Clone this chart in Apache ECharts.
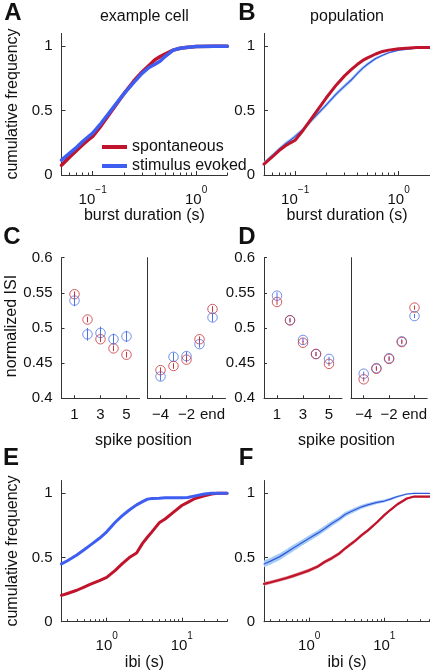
<!DOCTYPE html>
<html><head><meta charset="utf-8">
<script src="https://cdn.jsdelivr.net/npm/echarts@6/dist/echarts.min.js"></script>
<style>html,body{margin:0;padding:0;background:#fff}#c{width:430px;height:672px}</style>
</head><body><div id="c"></div>
<script>
// ---- data ----
const burstDur = [0.05,0.06,0.07,0.08,0.09,0.1,0.12,0.15,0.2,0.25,0.3,0.35,0.4,0.45,0.5,0.6,0.7,0.8,1,1.5,2];
const cellBurstSpont  = [0.075,0.14,0.19,0.235,0.27,0.30,0.38,0.49,0.63,0.73,0.80,0.85,0.895,0.92,0.94,0.97,0.985,0.99,0.998,1,1];
const cellBurstEvoked = [0.115,0.17,0.215,0.26,0.295,0.325,0.40,0.50,0.63,0.72,0.79,0.835,0.86,0.885,0.92,0.97,0.985,0.99,0.998,1,1];
const popBurstSpont   = [0.085,0.14,0.19,0.225,0.25,0.27,0.35,0.46,0.60,0.70,0.77,0.82,0.86,0.89,0.91,0.94,0.96,0.97,0.98,0.99,0.99];
const popBurstEvoked  = [0.09,0.15,0.20,0.24,0.27,0.30,0.355,0.44,0.545,0.63,0.69,0.74,0.79,0.83,0.86,0.905,0.93,0.95,0.97,0.985,0.99];
const popBurstSpontErr  = [0.008,0.008,0.008,0.008,0.008,0.008,0.008,0.008,0.008,0.008,0.008,0.008,0.007,0.007,0.006,0.005,0.004,0.004,0.003,0.002,0.002];
const popBurstEvokedErr = [0.016,0.016,0.016,0.016,0.016,0.016,0.016,0.016,0.016,0.016,0.016,0.016,0.016,0.015,0.014,0.012,0.01,0.008,0.006,0.004,0.003];

const posStart = [1,2,3,4,5];
const posEnd = [-4,-3,-2,-1,0];
const cellIsiSpontStart  = [0.548,0.512,0.484,0.471,0.462];
const cellIsiEvokedStart = [0.539,0.491,0.493,0.484,0.488];
const cellIsiSpontEnd    = [0.440,0.446,0.455,0.484,0.527];
const cellIsiEvokedEnd   = [0.431,0.459,0.460,0.477,0.515];
const cellErrSpontStart  = [0.004,0.004,0.004,0.004,0.004];
const cellErrEvokedStart = [0.008,0.009,0.009,0.008,0.008];
const cellErrSpontEnd    = [0.004,0.004,0.004,0.004,0.004];
const cellErrEvokedEnd   = [0.006,0.006,0.006,0.005,0.006];
const popIsiSpontStart   = [0.537,0.511,0.479,0.463,0.449];
const popIsiEvokedStart  = [0.546,0.511,0.483,0.463,0.456];
const popIsiSpontEnd     = [0.427,0.442,0.456,0.480,0.529];
const popIsiEvokedEnd    = [0.435,0.443,0.457,0.481,0.517];
const popErrSpontStart   = [0.004,0.003,0.003,0.003,0.003];
const popErrEvokedStart  = [0.005,0.003,0.003,0.003,0.003];
const popErrSpontEnd     = [0.003,0.003,0.003,0.003,0.003];
const popErrEvokedEnd    = [0.003,0.003,0.003,0.003,0.003];

const ibi = [0.25,0.3,0.4,0.5,0.6,0.8,1,1.3,1.6,2,2.5,3,3.5,4,5,6,8,10,12,15,20,25,30,40];
const cellIbiSpont  = [0.205,0.22,0.245,0.27,0.29,0.32,0.345,0.40,0.45,0.50,0.535,0.61,0.66,0.70,0.77,0.80,0.86,0.905,0.93,0.96,0.98,0.995,1,1];
const cellIbiEvoked = [0.45,0.475,0.52,0.56,0.595,0.65,0.70,0.775,0.825,0.87,0.91,0.935,0.955,0.96,0.962,0.965,0.965,0.966,0.968,0.98,0.995,1,1,1];
const popIbiSpont   = [0.295,0.305,0.325,0.34,0.355,0.38,0.40,0.43,0.465,0.495,0.53,0.57,0.60,0.625,0.675,0.71,0.775,0.83,0.87,0.915,0.96,0.975,0.975,0.975];
const popIbiEvoked  = [0.45,0.47,0.505,0.54,0.57,0.615,0.65,0.69,0.725,0.765,0.80,0.835,0.855,0.87,0.895,0.91,0.93,0.94,0.955,0.975,0.995,1,1,1];
const popIbiSpontErr  = [0.014,0.014,0.014,0.014,0.014,0.014,0.014,0.014,0.014,0.014,0.014,0.014,0.014,0.014,0.013,0.013,0.012,0.011,0.01,0.009,0.008,0.007,0.007,0.007];
const popIbiEvokedErr = [0.026,0.026,0.026,0.025,0.025,0.024,0.024,0.023,0.022,0.021,0.02,0.019,0.018,0.017,0.016,0.015,0.013,0.012,0.011,0.009,0.006,0.004,0.003,0.003];

const yTicksCum = [0,0.5,1];
const burstMajor = [0.1,1];
const burstMinor = [0.05,0.06,0.07,0.08,0.09,0.2,0.3,0.4,0.5,0.6,0.7,0.8,0.9,2];
const ibiMajor = [1,10];
const ibiMinor = [0.3,0.4,0.5,0.6,0.7,0.8,0.9,2,3,4,5,6,7,8,9,20,30,40];
const posStartTicks = [1,3,5];
const posEndTicks = [-4,-2,0];

// ---- style ----
const FONT = '"Liberation Sans", Arial, Helvetica, sans-serif';
const RED = '#c0142c', BLUE = '#3d5ef0';
const BLUE_THIN = '#3355dd', BLUE_BAND = '#a3cbf3', RED_BAND = '#e3949a';
const MRED = '#c8353b', MBLUE = '#4d73e8';
const AX = '#333';

const zip = (xs, ys) => xs.map((x, i) => [x, ys[i]]);
const zip3 = (xs, ys, es) => xs.map((x, i) => [x, ys[i], es[i]]);
const expMap = {'-1':'\u22121','0':'0','1':'1'};
const logFmt = v => { const k = String(Math.round(Math.log10(v))); return '{b|10}{s|' + expMap[k] + '}'; };

const grids = [
  {left:61.5, top:33.4, width:165.8, height:141.6},   // A
  {left:264,  top:33.4, width:165.8, height:141.6},   // B
  {left:61.5, top:257.7, width:78, height:140.6},     // C left
  {left:147.5,top:257.7, width:78, height:140.6},     // C right
  {left:264,  top:257.7, width:78, height:140.6},     // D left
  {left:351,  top:257.7, width:78, height:140.6},     // D right
  {left:61.5, top:480.5, width:165.5, height:141.2},  // E
  {left:264,  top:480.5, width:165.5, height:141.2}   // F
];

const lblStyle = {color:'#111', fontSize:15, fontFamily:FONT};
function logX(grid, min, max, major, minor, isMinor) {
  if (isMinor) return {type:'log', logBase:10, gridIndex:grid, position:'bottom', min, max,
    axisLine:{show:false}, splitLine:{show:false},
    axisTick:{show:true, inside:true, length:2.5, customValues:minor, lineStyle:{color:AX}},
    axisLabel:{show:false}};
  return {type:'log', logBase:10, gridIndex:grid, position:'bottom', min, max,
    axisLine:{show:true, lineStyle:{color:AX, width:1}}, splitLine:{show:false},
    axisTick:{show:true, inside:true, length:4, customValues:major, lineStyle:{color:AX}},
    axisLabel:Object.assign({show:true, margin:10, customValues:major, formatter:logFmt,
      rich:{b:{fontSize:15, fontFamily:FONT, color:'#111', verticalAlign:'bottom', lineHeight:22},
            s:{fontSize:10, fontFamily:FONT, color:'#111', verticalAlign:'top', lineHeight:22}}}, lblStyle)};
}
function valX(grid, min, max, ticks, fmt) {
  return {type:'value', gridIndex:grid, position:'bottom', min, max,
    axisLine:{show:true, onZero:false, lineStyle:{color:AX, width:1}}, splitLine:{show:false},
    axisTick:{show:true, inside:true, length:3, customValues:ticks, lineStyle:{color:AX}},
    axisLabel:Object.assign({show:true, margin:9, customValues:ticks, formatter:fmt}, lblStyle)};
}
function cumY(grid) {
  return {type:'value', gridIndex:grid, min:0, max:1.1,
    axisLine:{show:true, onZero:false, lineStyle:{color:AX, width:1}}, splitLine:{show:false},
    axisTick:{show:true, inside:true, length:4, customValues:yTicksCum, lineStyle:{color:AX}},
    axisLabel:Object.assign({show:true, margin:9, customValues:yTicksCum, formatter:v=>String(v)}, lblStyle)};
}
function isiY(grid, labels) {
  return {type:'value', gridIndex:grid, min:0.4, max:0.6, interval:0.05,
    axisLine:{show:true, onZero:false, lineStyle:{color:AX, width:1}}, splitLine:{show:false},
    axisTick:{show:labels, inside:true, length:3, lineStyle:{color:AX}},
    axisLabel:Object.assign({show:labels, margin:9, formatter:v=>String(+v.toFixed(2))}, lblStyle)};
}
const endFmt = v => v === 0 ? 'end' : (v < 0 ? '\u2212' + (-v) : String(v));

const xAxis = [
  logX(0, 0.05, 2, burstMajor),
  logX(1, 0.05, 2, burstMajor),
  valX(2, 0, 6, posStartTicks, v=>String(v)),
  valX(3, -5, 1, posEndTicks, endFmt),
  valX(4, 0, 6, posStartTicks, v=>String(v)),
  valX(5, -5, 1, posEndTicks, endFmt),
  logX(6, 0.25, 40, ibiMajor),
  logX(7, 0.25, 40, ibiMajor),
  logX(0, 0.05, 2, null, burstMinor, true),
  logX(1, 0.05, 2, null, burstMinor, true),
  logX(6, 0.25, 40, null, ibiMinor, true),
  logX(7, 0.25, 40, null, ibiMinor, true)
];
const yAxis = [cumY(0), cumY(1), isiY(2,true), isiY(3,false), isiY(4,true), isiY(5,false), cumY(6), cumY(7)];

function line(name, gi, xs, ys, color, width) {
  return {name, type:'line', xAxisIndex:gi, yAxisIndex:gi, data:zip(xs, ys), showSymbol:false, symbol:'none',
    lineStyle:{color, width, cap:'round', join:'round'}, itemStyle:{color}, z:3, silent:true};
}
function band(gi, xs, ys, es, color) {
  const data = zip3(xs, ys, es);
  return {type:'custom', xAxisIndex:gi, yAxisIndex:gi, data, encode:{x:0, y:1}, z:1, silent:true,
    renderItem:(params, api) => {
      if (params.dataIndex !== 0) return null;
      const up = data.map(d => api.coord([d[0], d[1] + d[2]]));
      const dn = data.map(d => api.coord([d[0], d[1] - d[2]])).reverse();
      return {type:'polygon', shape:{points: up.concat(dn)}, style:{fill:color}};
    }};
}
function circles(gi, xs, ys, color) {
  return {type:'scatter', xAxisIndex:gi, yAxisIndex:gi, data:zip(xs, ys), symbol:'circle', symbolSize:9.5,
    itemStyle:{color:'rgba(0,0,0,0)', borderColor:color, borderWidth:1}, z:4, silent:true};
}
function errbars(gi, xs, ys, es, color) {
  return {type:'custom', xAxisIndex:gi, yAxisIndex:gi, data:zip3(xs, ys, es), encode:{x:0, y:1}, z:5, silent:true,
    renderItem:(params, api) => {
      const x = api.value(0), y = api.value(1), e = api.value(2);
      const p1 = api.coord([x, y - e]), p2 = api.coord([x, y + e]);
      return {type:'line', shape:{x1:p1[0], y1:p1[1], x2:p2[0], y2:p2[1]}, style:{stroke:color, lineWidth:1}};
    }};
}

const series = [
  line('spontaneous', 0, burstDur, cellBurstSpont, RED, 3.5),
  line('stimulus evoked', 0, burstDur, cellBurstEvoked, BLUE, 3.5),
  band(1, burstDur, popBurstEvoked, popBurstEvokedErr, BLUE_BAND),
  band(1, burstDur, popBurstSpont, popBurstSpontErr, RED_BAND),
  line('pop evoked burst', 1, burstDur, popBurstEvoked, BLUE_THIN, 1.2),
  line('pop spont burst', 1, burstDur, popBurstSpont, RED, 3),
  circles(2, posStart, cellIsiEvokedStart, MBLUE), errbars(2, posStart, cellIsiEvokedStart, cellErrEvokedStart, MBLUE),
  circles(2, posStart, cellIsiSpontStart, MRED), errbars(2, posStart, cellIsiSpontStart, cellErrSpontStart, MRED),
  circles(3, posEnd, cellIsiEvokedEnd, MBLUE), errbars(3, posEnd, cellIsiEvokedEnd, cellErrEvokedEnd, MBLUE),
  circles(3, posEnd, cellIsiSpontEnd, MRED), errbars(3, posEnd, cellIsiSpontEnd, cellErrSpontEnd, MRED),
  circles(4, posStart, popIsiEvokedStart, MBLUE), errbars(4, posStart, popIsiEvokedStart, popErrEvokedStart, MBLUE),
  circles(4, posStart, popIsiSpontStart, MRED), errbars(4, posStart, popIsiSpontStart, popErrSpontStart, MRED),
  circles(5, posEnd, popIsiEvokedEnd, MBLUE), errbars(5, posEnd, popIsiEvokedEnd, popErrEvokedEnd, MBLUE),
  circles(5, posEnd, popIsiSpontEnd, MRED), errbars(5, posEnd, popIsiSpontEnd, popErrSpontEnd, MRED),
  line('cell spont ibi', 6, ibi, cellIbiSpont, RED, 3),
  line('cell evoked ibi', 6, ibi, cellIbiEvoked, BLUE, 3),
  band(7, ibi, popIbiEvoked, popIbiEvokedErr, BLUE_BAND),
  band(7, ibi, popIbiSpont, popIbiSpontErr, RED_BAND),
  line('pop evoked ibi', 7, ibi, popIbiEvoked, BLUE_THIN, 1.2),
  line('pop spont ibi', 7, ibi, popIbiSpont, RED, 2.2)
];

function txt(s, x, y, size, bold, rot) {
  return {type:'text', x, y, rotation: rot || 0, silent:true, z:10,
    style:{text:s, x:0, y:0, fill:'#111', font:(bold?'bold ':'') + size + 'px ' + FONT,
      align:'center', verticalAlign:'middle', textAlign:'center', textVerticalAlign:'middle'}};
}
const graphic = [
  txt('A', 13, 13, 24, true), txt('B', 247, 13, 24, true),
  txt('C', 12, 237, 24, true), txt('D', 247, 237, 24, true),
  txt('E', 11, 458, 24, true), txt('F', 246, 458, 24, true),
  txt('example cell', 144.4, 17, 16), txt('population', 347, 17, 16),
  txt('burst duration (s)', 144.4, 216, 16), txt('burst duration (s)', 347, 216, 16),
  txt('spike position', 143.5, 441, 16), txt('spike position', 346.5, 441, 16),
  txt('ibi (s)', 144.4, 663, 16), txt('ibi (s)', 347, 663, 16),
  txt('cumulative frequency', 13, 104, 16, false, Math.PI/2),
  txt('normalized ISI', 12, 326, 16, false, Math.PI/2),
  txt('cumulative frequency', 13, 551, 16, false, Math.PI/2)
];

const chart = echarts.init(document.getElementById('c'), null, {renderer:'canvas'});
chart.setOption({
  animation:false,
  backgroundColor:'#fff',
  grid: grids,
  xAxis, yAxis, series, graphic,
  legend:{data:[{name:'spontaneous'},{name:'stimulus evoked'}], orient:'vertical', left:97, top:134,
    icon:'rect', itemWidth:25, itemHeight:4, itemGap:3, selectedMode:false,
    textStyle:{fontSize:16, fontFamily:FONT, color:'#111'}}
});
</script></body></html>
